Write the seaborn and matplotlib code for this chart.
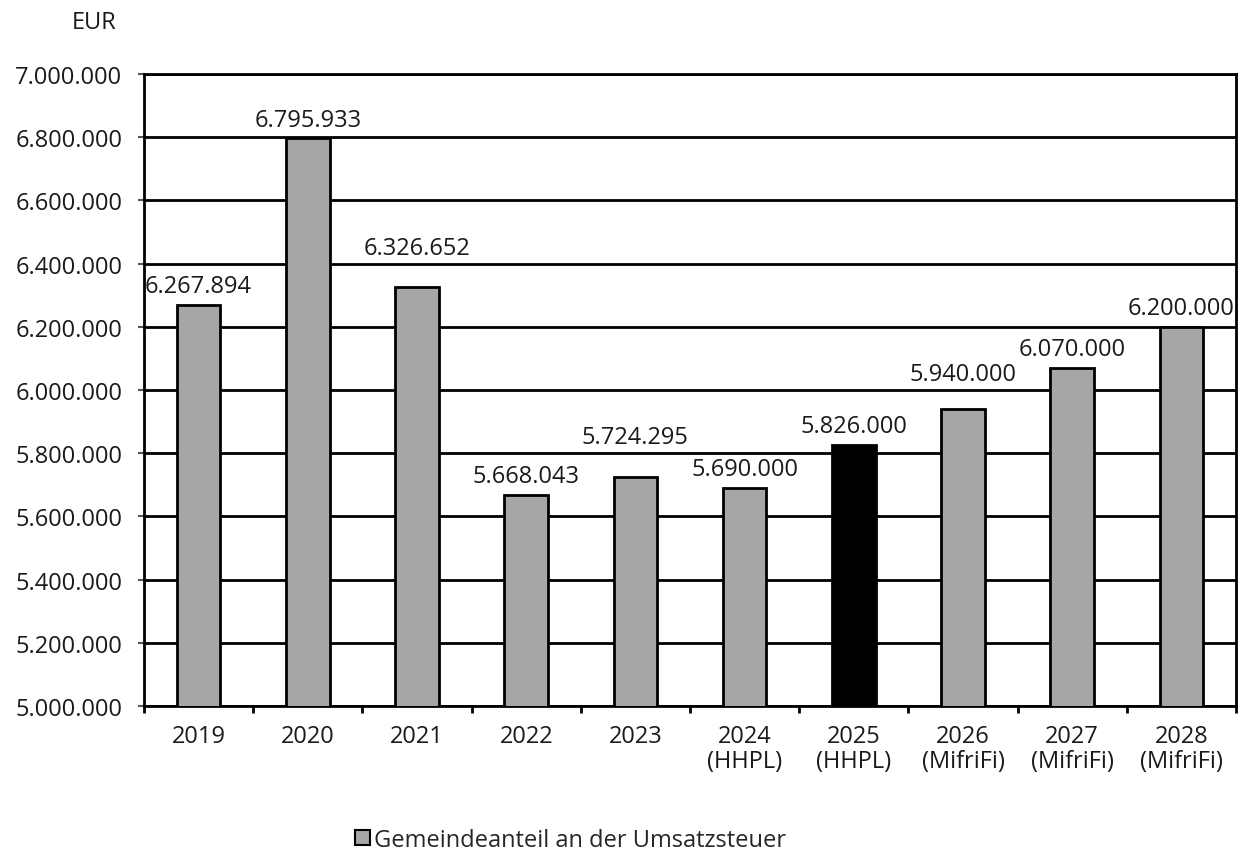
import numpy as np
import pandas as pd
import seaborn as sns
import matplotlib.pyplot as plt
from matplotlib.patches import Patch

years = ['2019', '2020', '2021', '2022', '2023', '2024\n(HHPL)', '2025\n(HHPL)',
         '2026\n(MifriFi)', '2027\n(MifriFi)', '2028\n(MifriFi)']
values = [6267894, 6795933, 6326652, 5668043, 5724295, 5690000, 5826000,
          5940000, 6070000, 6200000]
bar_colors = ['#a6a6a6'] * 6 + ['#000000'] + ['#a6a6a6'] * 3

FS = 17
TXT = '#1a1a1a'

sns.set_theme(style='white')
plt.rcParams['font.family'] = ['Open Sans', 'DejaVu Sans']

df = pd.DataFrame({'jahr': years, 'wert': values})

fig = plt.figure(figsize=(12.42, 8.54), dpi=100)
ax = fig.add_axes([144 / 1242, 1 - 707 / 854, (1236 - 144) / 1242, (707 - 75) / 854])

sns.barplot(data=df, x='jahr', y='wert', hue='jahr', palette=bar_colors, legend=False,
            width=0.4, edgecolor='black', linewidth=2, ax=ax, zorder=3)

ax.set_ylim(5000000, 7000000)
ax.set_xlim(-0.5, len(years) - 0.5)
yt = np.arange(5000000, 7000001, 200000)
ax.set_yticks(yt)
ax.set_yticklabels([f'{v:,.0f}'.replace(',', '.') for v in yt], fontsize=FS, color=TXT)
ax.yaxis.grid(True, color='black', linewidth=2, zorder=0)
ax.set_axisbelow(True)

ax.set_xticks(range(len(years)))
ax.set_xticklabels(years, fontsize=FS, color=TXT, linespacing=1.07)
ax.tick_params(axis='x', length=0, pad=13)
ax.set_xticks(np.arange(-0.5, len(years)), minor=True)
ax.tick_params(axis='x', which='minor', bottom=True, length=5, width=2, color='black')
ax.tick_params(axis='y', left=True, length=4.5, width=1.5, color='#555555', pad=11)
ax.set_xlabel('')
ax.set_ylabel('')

for s in ax.spines.values():
    s.set_color('black')
    s.set_linewidth(2)

# Beschriftung ueber den Balken, bei Kollision mit Gitterlinie nach oben schieben
half = 50000
for i, v in enumerate(values):
    yc = v + 60000
    for g in yt:
        if yc - half < g < yc + half:
            yc = g + 50000
    ax.text(i, yc, f'{v:,.0f}'.replace(',', '.'), ha='center', va='center',
            fontsize=FS, color=TXT)

fig.text(117 / 1242, 1 - 23 / 854, 'EUR', ha='right', va='center', fontsize=FS, color=TXT)

handle = Patch(facecolor='#a6a6a6', edgecolor='black', linewidth=1.5)
fig.legend([handle], ['Gemeindeanteil an der Umsatzsteuer'], loc='center',
           bbox_to_anchor=(571 / 1242, 1 - 841 / 854), frameon=False, fontsize=FS,
           handlelength=0.6, handleheight=0.6, handletextpad=0.2)

fig.savefig('out.png', dpi=100)
